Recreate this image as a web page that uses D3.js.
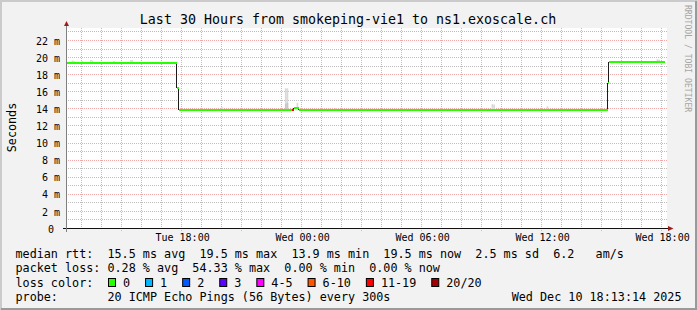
<!DOCTYPE html>
<html lang="en">
<head>
<meta charset="utf-8" />
<title>smokeping</title>
<script src="https://cdn.jsdelivr.net/npm/d3@7"></script>
<style>
  html, body { margin: 0; padding: 0; background: #f2f2f2; }
  svg { display: block; }
  svg text { font-family: "DejaVu Sans Mono", monospace; white-space: pre; }
</style>
</head>
<body>
<svg id="chart" width="697" height="310"></svg>
<script>
// ---- data ----
const startTime = "2025-12-09 12:13:14";
const endTime = "2025-12-10 18:13:14";

// median rtt (ms), step changes
const medianTimes = ["2025-12-09 12:13", "2025-12-09 17:45", "2025-12-09 17:50", "2025-12-09 23:30",
  "2025-12-09 23:35", "2025-12-09 23:50", "2025-12-10 15:18", "2025-12-10 15:21", "2025-12-10 18:10"];
const medianValues = [19.4, 16.4, 13.9, 13.85, 14.05, 13.9, 17.0, 19.5, 19.5];
const lossCounts = [0, 0, 0, 11, 0, 0, 0, 0, 0];

// smoke (spread of the 20 pings), 5 minute steps
const smokeTimes = ["2025-12-09 12:30", "2025-12-09 12:35", "2025-12-09 13:00", "2025-12-09 13:25",
  "2025-12-09 13:30", "2025-12-09 14:35", "2025-12-09 15:25", "2025-12-09 15:30", "2025-12-09 20:00",
  "2025-12-09 23:10", "2025-12-09 23:15", "2025-12-09 23:45", "2025-12-10 01:40", "2025-12-10 09:30",
  "2025-12-10 09:35", "2025-12-10 12:15", "2025-12-10 17:45", "2025-12-10 17:50"];
const smokeLow = [19.4, 19.4, 19.4, 19.4, 19.4, 19.4, 19.4, 19.4, 13.9,
  13.9, 13.9, 14.05, 13.9, 13.9, 13.9, 13.9, 19.5, 19.5];
const smokeInner = [19.4, 19.4, 19.4, 19.4, 19.4, 19.4, 19.4, 19.4, 13.9,
  14.6, 14.7, 14.05, 13.9, 13.9, 13.9, 13.9, 19.5, 19.5];
const smokeHigh = [19.65, 19.6, 19.6, 19.7, 19.65, 19.6, 19.7, 19.7, 14.2,
  16.4, 16.4, 14.7, 14.1, 14.55, 14.5, 14.3, 19.8, 19.75];

const yTicks = [0, 2, 4, 6, 8, 10, 12, 14, 16, 18, 20, 22];
const xLabelTimes = ["2025-12-09 18:00", "2025-12-10 00:00", "2025-12-10 06:00",
  "2025-12-10 12:00", "2025-12-10 18:00"];

const lossLabels = ["0", "1", "2", "3", "4-5", "6-10", "11-19", "20/20"];
const lossColors = ["#26ff00", "#00b8ff", "#0059ff", "#5e00ff", "#ff00ff", "#ff5500", "#ff0000", "#a10000"];
const lossThresholds = [1, 2, 3, 4, 6, 11, 20];

const titleText = "Last 30 Hours from smokeping-vie1 to ns1.exoscale.ch";
const rttItems = ["15.5 ms avg", "19.5 ms max", "13.9 ms min", "19.5 ms now", "2.5 ms sd", "6.2   am/s"];
const lossItems = ["0.28 % avg", "54.33 % max", "0.00 % min", "0.00 % now"];
const probeText = "20 ICMP Echo Pings (56 Bytes) every 300s";
const stampText = "Wed Dec 10 18:13:14 2025";

// ---- setup ----
const parseFull = d3.timeParse("%Y-%m-%d %H:%M:%S");
const parseMin = d3.timeParse("%Y-%m-%d %H:%M");
const t0 = parseFull(startTime), t1 = parseFull(endTime);

const svg = d3.select("#chart");
const W = 697, H = 310;
const plotLeft = 66, plotRight = 666, plotTop = 28.5, plotBottom = 228.5;

const x = d3.scaleTime().domain([t0, t1]).range([plotLeft, plotRight]);
const y = d3.scaleLinear().domain([0, 23.4]).range([plotBottom, plotTop]);
const lossColor = d3.scaleThreshold().domain(lossThresholds).range(lossColors);
const snap = v => Math.floor(v) + 0.5;

// background and 3d border
svg.append("rect").attr("width", W).attr("height", H).attr("fill", "#f2f2f2");
svg.append("path").attr("d", `M1,${H} V1 H${W}`).attr("fill", "none").attr("stroke", "#cbcbcb").attr("stroke-width", 2);
svg.append("path").attr("d", `M1,${H - 1} H${W - 1} V1`).attr("fill", "none").attr("stroke", "#9a9a9a").attr("stroke-width", 2);

// canvas
svg.append("rect").attr("x", plotLeft).attr("y", 28).attr("width", 601).attr("height", 200.5).attr("fill", "#fff");

// grid (dotted, minor grey, major pink)
const grid = svg.append("g").attr("shape-rendering", "crispEdges");
const hours = d3.timeHour.range(d3.timeHour.ceil(t0), t1);
grid.selectAll(".vgrid").data(hours).enter().append("line")
  .attr("x1", d => snap(x(d))).attr("x2", d => snap(x(d)))
  .attr("y1", 28).attr("y2", d => d.getHours() % 3 === 0 ? 231 : 228)
  .attr("stroke", d => d.getHours() % 3 === 0 ? "#f0a8a8" : "#bdbdbd")
  .attr("stroke-dasharray", "1,1");
grid.selectAll(".hgrid").data(d3.range(1, 24)).enter().append("line")
  .attr("x1", plotLeft).attr("x2", 668)
  .attr("y1", d => snap(y(d))).attr("y2", d => snap(y(d)))
  .attr("stroke", d => d % 2 === 0 ? "#f0a8a8" : "#bdbdbd")
  .attr("stroke-dasharray", "1,1");

// smoke
const step = 5 * 60 * 1000;
const smoke = smokeTimes.map((t, i) => ({ t: parseMin(t), lo: smokeLow[i], mid: smokeInner[i], hi: smokeHigh[i] }));
svg.append("g").selectAll("rect").data(smoke).enter().append("rect")
  .attr("x", d => x(d.t)).attr("width", d => x(new Date(+d.t + step)) - x(d.t))
  .attr("y", d => y(d.hi)).attr("height", d => y(d.lo) - y(d.hi))
  .attr("fill", "#d9d9d9");
svg.append("g").selectAll("rect").data(smoke.filter(d => d.mid > d.lo)).enter().append("rect")
  .attr("x", d => x(d.t)).attr("width", d => x(new Date(+d.t + step)) - x(d.t))
  .attr("y", d => y(d.mid)).attr("height", d => y(d.lo) - y(d.mid))
  .attr("fill", "#c6c6c6");

// median line: black risers, loss coloured levels
const med = medianTimes.map((t, i) => ({ t: parseMin(t), v: medianValues[i], loss: lossCounts[i] }));
const yPix = v => Math.round(y(v));
svg.append("g").attr("shape-rendering", "crispEdges").selectAll("line").data(med.slice(1)).enter().append("line")
  .attr("x1", d => snap(x(d.t))).attr("x2", d => snap(x(d.t)))
  .attr("y1", (d, i) => yPix(med[i].v)).attr("y2", d => yPix(d.v))
  .attr("stroke", "#1a1a1a").attr("stroke-width", 1);
svg.append("g").attr("shape-rendering", "crispEdges").selectAll("line").data(med.slice(0, -1)).enter().append("line")
  .attr("x1", d => snap(x(d.t))).attr("x2", (d, i) => snap(x(med[i + 1].t)))
  .attr("y1", d => yPix(d.v)).attr("y2", d => yPix(d.v))
  .attr("stroke", d => lossColor(d.loss)).attr("stroke-width", 2);

// axes lines and arrows
const arrowCol = "#9e1c1c";
svg.append("line").attr("x1", 63).attr("x2", 668).attr("y1", 228.5).attr("y2", 228.5)
  .attr("stroke", "#111").attr("stroke-width", 1.2);
svg.append("line").attr("x1", 66.5).attr("x2", 66.5).attr("y1", 232).attr("y2", 26)
  .attr("stroke", "#808080").attr("stroke-width", 1);
svg.append("path").attr("d", "M668,226 L673.5,228.5 L668,231 Z").attr("fill", arrowCol);
svg.append("path").attr("d", "M64,26 L66.5,21 L69,26 Z").attr("fill", arrowCol);

// axis labels via d3 axes
const yAxis = svg.append("g").attr("transform", "translate(66.5,0)")
  .call(d3.axisLeft(y).tickValues(yTicks).tickSize(0).tickPadding(6.5)
    .tickFormat(d => d === 0 ? "0 " : d + " m"));
yAxis.select(".domain").remove();
yAxis.selectAll("text").attr("font-family", "DejaVu Sans Mono").attr("font-size", 10)
  .attr("fill", "#000").attr("dy", "0.36em");

const xAxis = svg.append("g").attr("transform", "translate(0.5,228.5)")
  .call(d3.axisBottom(x).tickValues(xLabelTimes.map(parseMin)).tickSize(0).tickPadding(5.4)
    .tickFormat(d3.timeFormat("%a %H:%M")));
xAxis.select(".domain").remove();
xAxis.selectAll("text").attr("font-family", "DejaVu Sans Mono").attr("font-size", 10).attr("fill", "#000");

// title, y label, watermark
svg.append("text").attr("x", 348).attr("y", 24).attr("text-anchor", "middle")
  .attr("font-size", 13.3).text(titleText);
svg.append("text").attr("transform", "translate(15.5,127.5) rotate(-90)").attr("text-anchor", "middle")
  .attr("font-size", 11.75).text("Seconds");
svg.append("text").attr("transform", "translate(684.5,5) rotate(90)")
  .attr("font-size", 8.1).attr("fill", "#a5a5a5").text("RRDTOOL / TOBI OETIKER");

// legend
const lg = svg.append("g").attr("font-size", 11.75);
const lx = 15.5, rows = [258.3, 272.4, 286.5, 300.6];
lg.append("text").attr("x", lx).attr("y", rows[0]).text("median rtt:  " + rttItems.join("  "));
lg.append("text").attr("x", lx).attr("y", rows[1]).text("packet loss: " + lossItems.join("  "));
lg.append("text").attr("x", lx).attr("y", rows[2]).text("loss color:");
lg.append("text").attr("x", lx).attr("y", rows[3]).text("probe:       " + probeText);
lg.append("text").attr("x", 681.5).attr("y", rows[3]).attr("text-anchor", "end").text(stampText);

const probe = lg.append("text").attr("y", -50).text("0");
const cw = probe.node().getComputedTextLength();
probe.remove();
let bx = 16 + 13 * cw;
lossLabels.forEach((lab, i) => {
  lg.append("rect").attr("x", bx + 0.5).attr("y", rows[2] - 8).attr("width", 7).attr("height", 8)
    .attr("fill", lossColors[i]).attr("stroke", "#000").attr("stroke-width", 1);
  lg.append("text").attr("x", bx + 15).attr("y", rows[2]).text(lab);
  bx += 15 + lab.length * cw + 15;
});
</script>
</body>
</html>
